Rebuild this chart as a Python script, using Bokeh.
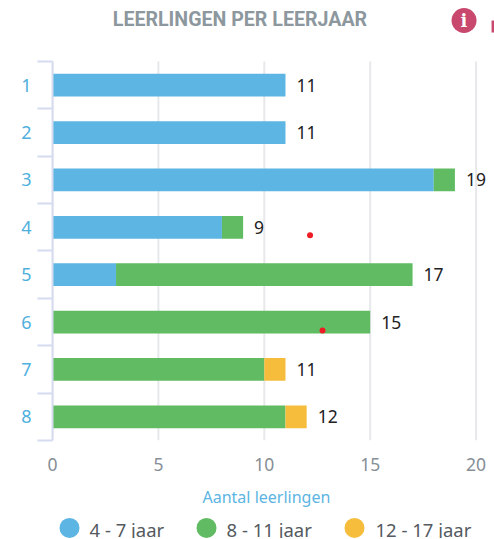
from bokeh.plotting import figure
from bokeh.layouts import column
from bokeh.models import ColumnDataSource, FixedTicker, Range1d, Title
from bokeh.core.properties import value
from bokeh.embed import file_html
from bokeh.resources import INLINE

categories = ["1", "2", "3", "4", "5", "6", "7", "8"]
series_names = ["4 - 7 jaar", "8 - 11 jaar", "12 - 17 jaar"]
colors = ["#5cb5e2", "#60bb63", "#f6bd3c"]
age_4_7 = [11, 11, 18, 8, 3, 0, 0, 0]
age_8_11 = [0, 0, 1, 1, 14, 15, 10, 11]
age_12_17 = [0, 0, 0, 0, 0, 0, 1, 1]
totals = [11, 11, 19, 9, 17, 15, 11, 12]
x_ticks = [0, 5, 10, 15, 20]
red_dot_x = [12.16, 12.75]
red_dot_y = [3.67, 5.68]
title_text = "LEERLINGEN PER LEERJAAR"
x_label = "Aantal leerlingen"

y_pos = [i + 0.5 for i in range(len(categories))]
PX_PER_BAND = 47.4
PX_PER_UNIT = 21.18
FONT = "Noto Sans"

src = ColumnDataSource(dict(y=y_pos, a=age_4_7, b=age_8_11, c=age_12_17,
                            total=totals, lab=[str(t) for t in totals]))

top_extra = 61 / PX_PER_BAND
p = figure(width=494, height=510, output_backend="svg", toolbar_location=None,
           x_range=Range1d(0, 442 / PX_PER_UNIT), y_range=Range1d(8, -top_extra),
           frame_width=442, frame_height=440,
           min_border_left=52, min_border_right=0, min_border_top=0, min_border_bottom=0,
           outline_line_color=None, background_fill_color="white", border_fill_color="white")

# grid lines only over the bands
p.segment(x_ticks, [0] * len(x_ticks), x_ticks, [8] * len(x_ticks),
          line_color="#e6e8ec", line_width=2, level="underlay")

p.hbar_stack(["a", "b", "c"], y="y", height=0.48, color=colors, line_color=None, source=src)
p.text(x="total", y="y", text="lab", source=src, x_offset=11, text_align="left", text_baseline="middle",
       text_font=value(FONT), text_font_size="17.5px", text_color="#222222")
p.scatter(red_dot_x, red_dot_y, size=6, color="#ee1c25", line_color=None)

# title and info icon (inside the frame's headroom)
p.text([8.85], [-0.89], text=[title_text], text_align="center", text_baseline="middle",
       text_font=value("Roboto"), text_font_style="bold", text_font_size="19.6px", text_color="#8c979e")
p.scatter([19.43], [-0.865], size=25, color="#c8486e", line_color=None)
p.text([19.43], [-0.865], text=["i"], text_align="center", text_baseline="middle",
       text_font=value("DejaVu Serif"), text_font_style="bold", text_font_size="18px", text_color="white")
p.quad(left=[20.73], right=[21.0], top=[-0.865], bottom=[-0.61], color="#c8486e", line_color=None)

# x axis
xa = p.xaxis[0]
xa.ticker = FixedTicker(ticks=x_ticks)
xa.axis_line_color = None
xa.major_tick_line_color = None
xa.minor_tick_line_color = None
xa.major_label_standoff = 11
xa.major_label_text_font = FONT
xa.major_label_text_font_size = "17.5px"
xa.major_label_text_color = "#868e96"
p.add_layout(Title(text=x_label, align="left", offset=150, standoff=20,
                   text_font=FONT, text_font_style="normal", text_font_size="16px",
                   text_color="#5cb5e2"), "below")

# y axis: labels in the band centres, ticks on the band edges
ya = p.yaxis[0]
ya.ticker = FixedTicker(ticks=y_pos, minor_ticks=list(range(len(categories) + 1)))
ya.major_label_overrides = {y: c for y, c in zip(y_pos, categories)}
ya.bounds = (0, 8)
ya.axis_line_color = "#d5dcef"
ya.axis_line_width = 2
ya.major_tick_line_color = None
ya.minor_tick_line_color = "#d5dcef"
ya.minor_tick_line_width = 2
ya.minor_tick_in = 0
ya.minor_tick_out = 15
ya.major_label_standoff = 6
ya.major_label_text_font = FONT
ya.major_label_text_font_size = "18px"
ya.major_label_text_color = "#4fb0dd"

p.grid.visible = False

# legend strip (its frame lines up with the main frame, which starts 52px in)
legend_circle_x = [69, 206, 354]
legend_text_x = [89, 226, 375]
leg = figure(width=494, height=21, output_backend="svg", toolbar_location=None,
             x_range=Range1d(52, 494), y_range=Range1d(21, 0),
             min_border=0, outline_line_color=None, x_axis_location=None, y_axis_location=None)
leg.grid.visible = False
leg.scatter(legend_circle_x, [10.4] * 3, size=20, color=colors, line_color=None)
leg.text(legend_text_x, [12] * 3, text=series_names, text_align="left", text_baseline="middle",
         text_font=value(FONT), text_font_size="18.5px", text_color="#555a60")

layout = column(p, leg, spacing=0)
open("out.html", "w").write(file_html(layout, INLINE))
